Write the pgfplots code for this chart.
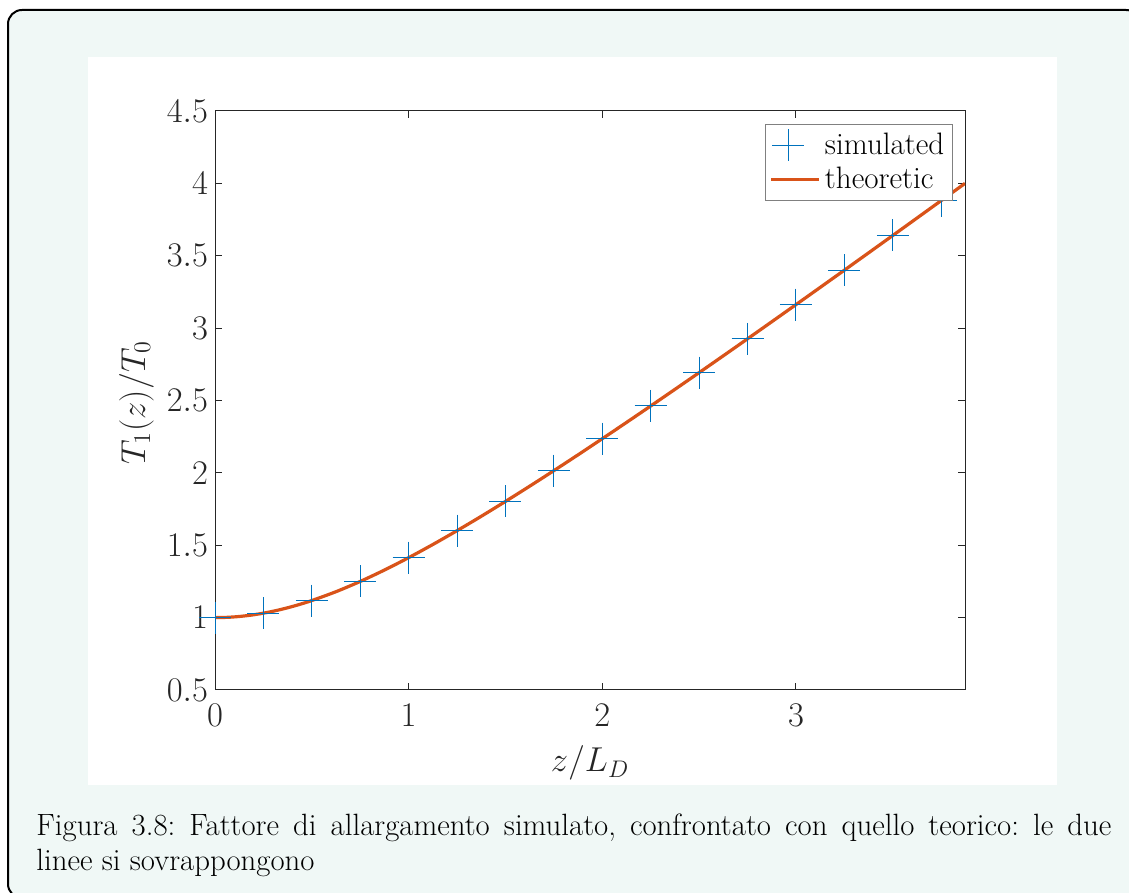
\documentclass[border=0pt]{standalone}
\usepackage{pgfplots}
\pgfplotsset{compat=1.18}
\definecolor{mint}{RGB}{240,248,246}
\definecolor{mblue}{rgb}{0,0.447,0.741}
\definecolor{morange}{rgb}{0.85,0.325,0.098}
\definecolor{axgray}{RGB}{38,38,38}
\pgfplotsset{
  simleg/.style={legend image code/.code={\draw[##1, draw=mblue, mark options={draw=mblue}] plot coordinates {(7.5pt,0pt)};}},
  theoleg/.style={legend image code/.code={\draw[##1, draw=morange] (-1pt,0pt) -- (23pt,0pt);}},
}
\begin{document}
\frenchspacing
\begin{tikzpicture}
\useasboundingbox (0,0) rectangle (564.5pt,446.5pt);
\clip (0,0) rectangle (564.5pt,446.5pt);
\fill[white] (0,0) rectangle (564.5pt,446.5pt);
\draw[line width=1pt, fill=mint, rounded corners=7pt] (4pt,441.5pt) rectangle (570pt,-2.5pt);
\fill[white] (44pt,418pt) rectangle (528.5pt,54pt);
\begin{axis}[
  at={(107.5pt,101.5pt)}, anchor=south west,
  scale only axis, width=375pt, height=289.5pt,
  xmin=0, xmax=3.873, ymin=0.5, ymax=4.5,
  xtick={0,1,2,3}, ytick={0.5,1,1.5,2,2.5,3,3.5,4,4.5},
  tick align=inside, major tick length=3.5pt,
  axis line style={axgray, line width=0.5pt},
  every tick/.style={axgray, line width=0.5pt},
  tick label style={font=\fontsize{17.2}{20}\selectfont, text=axgray},
  xticklabel style={yshift=-3.5pt},
  label style={font=\fontsize{18}{21}\selectfont, text=axgray},
  xlabel={$z/L_D$}, ylabel={$T_1(z)/T_0$},
  xlabel style={at={(axis description cs:0.5,0)}, anchor=base, yshift=-41pt},
  ylabel style={at={(axis description cs:0,0.497)}, anchor=base, yshift=35pt},
  clip marker paths=false,
  legend style={at={(rel axis cs:1,1)}, anchor=north east, xshift=-6pt, yshift=-6.5pt,
    draw=gray, font=\fontsize{15.5}{18}\selectfont, inner sep=2.2pt,
    row sep=1pt, cells={anchor=west}},
]
\addplot[only marks, mark=+, mark size=8pt, mblue, line width=0.5pt,
  mark options={draw=mblue}, simleg]
coordinates {
(0,1) (0.25,1.0308) (0.5,1.1180) (0.75,1.25) (1,1.4142) (1.25,1.6008)
(1.5,1.8028) (1.75,2.0156) (2,2.2361) (2.25,2.4622) (2.5,2.6926)
(2.75,2.9262) (3,3.1623) (3.25,3.4004) (3.5,3.6401) (3.75,3.8810)
};
\addlegendentry{simulated}
\addplot[no marks, morange, line width=1.6pt, smooth, theoleg]
coordinates {
(0,1) (0.0625,1.00195) (0.125,1.00778) (0.1875,1.01742) (0.25,1.03078)
(0.3125,1.04769) (0.375,1.06800) (0.4375,1.09152) (0.5,1.11803)
(0.625,1.17925) (0.75,1.25) (0.875,1.32877) (1,1.41421) (1.125,1.50520)
(1.25,1.60078) (1.375,1.70018) (1.5,1.80278) (1.625,1.90804) (1.75,2.01556)
(1.875,2.12500) (2,2.23607) (2.125,2.34854) (2.25,2.46221) (2.375,2.57694)
(2.5,2.69258) (2.625,2.80902) (2.75,2.92617) (2.875,3.04395) (3,3.16228)
(3.125,3.28110) (3.25,3.40037) (3.375,3.52003) (3.5,3.64005) (3.625,3.76040)
(3.75,3.88104) (3.873,4.0000)
};
\addlegendentry{theoretic}
\end{axis}
\node[anchor=base west, inner sep=0, font=\fontsize{15.4}{18}\selectfont] at (18pt,28.5pt)
  {\makebox[537.5pt][s]{Figura 3.8: Fattore di allargamento simulato, confrontato con quello teorico: le due}};
\node[anchor=base west, inner sep=0, font=\fontsize{15.4}{18}\selectfont] at (18pt,11pt)
  {linee si sovrappongono};
\end{tikzpicture}
\end{document}
